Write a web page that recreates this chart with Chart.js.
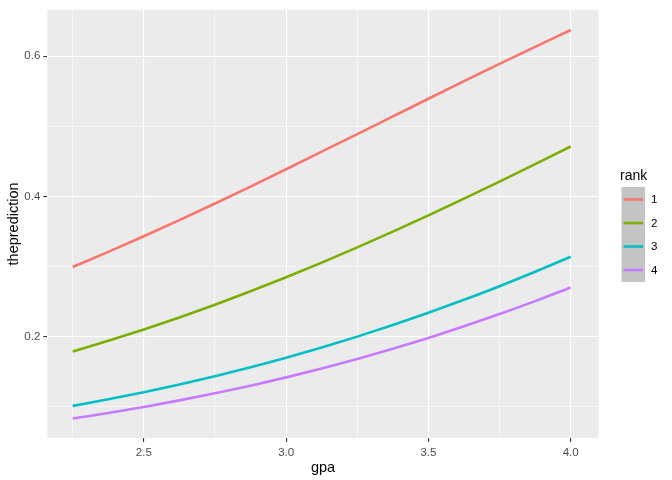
<!DOCTYPE html>
<html>
<head>
<meta charset="utf-8">
<script src="https://cdn.jsdelivr.net/npm/chart.js@4"></script>
<style>
  html, body { margin: 0; padding: 0; background: #ffffff; }
  #wrap { width: 672px; height: 480px; }
</style>
</head>
<body>
<div id="wrap"><canvas id="chart" width="672" height="480"></canvas></div>
<script>
// predicted admission probability by gpa, one series per rank
const gpa = [2.25, 2.375, 2.5, 2.625, 2.75, 2.875, 3.0, 3.125, 3.25, 3.375, 3.5, 3.625, 3.75, 3.875, 4.0];
const rank1 = [0.2995, 0.3210, 0.3433, 0.3663, 0.3899, 0.4141, 0.4388, 0.4638, 0.4889, 0.5141, 0.5393, 0.5643, 0.5889, 0.6132, 0.6372];
const rank2 = [0.1790, 0.1942, 0.2104, 0.2276, 0.2457, 0.2648, 0.2848, 0.3057, 0.3274, 0.3499, 0.3731, 0.3969, 0.4212, 0.4460, 0.4712];
const rank3 = [0.1015, 0.1109, 0.1210, 0.1320, 0.1438, 0.1565, 0.1701, 0.1847, 0.2002, 0.2167, 0.2342, 0.2527, 0.2721, 0.2926, 0.3140];
const rank4 = [0.0835, 0.0914, 0.1000, 0.1093, 0.1194, 0.1303, 0.1421, 0.1548, 0.1684, 0.1829, 0.1984, 0.2149, 0.2324, 0.2508, 0.2703];
const rankLabels = ['1', '2', '3', '4'];
const rankColors = ['#F8766D', '#7CAE00', '#00BFC4', '#C77CFF'];

// ticks: labelled (major) and unlabelled (minor) grid lines
const xMajor = [2.5, 3.0, 3.5, 4.0];
const xMinor = [2.25, 2.75, 3.25, 3.75];
const yMajor = [0.2, 0.4, 0.6];
const yMinor = [0.1, 0.3, 0.5];

const FONT = 'Liberation Sans, Arial, Helvetica, sans-serif';

const series = [rank1, rank2, rank3, rank4];
const datasets = series.map((vals, i) => ({
  label: rankLabels[i],
  data: gpa.map((g, j) => ({ x: g, y: vals[j] })),
  borderColor: rankColors[i],
  borderWidth: 2.6,
  pointRadius: 0,
  fill: false,
  cubicInterpolationMode: 'monotone'
}));

const isMajor = (list, v) => list.some(m => Math.abs(m - v) < 1e-6);

// grey panel behind the grid
const panelBg = {
  id: 'panelBg',
  beforeDraw(chart) {
    const { ctx, chartArea: a } = chart;
    ctx.save();
    ctx.fillStyle = '#EBEBEB';
    ctx.fillRect(a.left, a.top, a.right - a.left, a.bottom - a.top);
    ctx.restore();
  }
};

// ggplot-like legend on the right
const rankLegend = {
  id: 'rankLegend',
  afterDraw(chart) {
    const ctx = chart.ctx;
    ctx.save();
    ctx.font = '14px ' + FONT;
    ctx.fillStyle = '#000000';
    ctx.textBaseline = 'middle';
    ctx.textAlign = 'left';
    ctx.fillText('rank', 620, 176);
    ctx.fillStyle = '#C4C4C4';
    ctx.fillRect(621.5, 187, 23.5, 95);
    ctx.font = '11.5px ' + FONT;
    rankLabels.forEach((lab, i) => {
      const y = 199.5 + i * 23.5;
      ctx.strokeStyle = rankColors[i];
      ctx.lineWidth = 2.6;
      ctx.beginPath();
      ctx.moveTo(623.5, y);
      ctx.lineTo(643, y);
      ctx.stroke();
      ctx.fillStyle = '#000000';
      ctx.fillText(lab, 651, y + 0.5);
    });
    ctx.restore();
  }
};

new Chart(document.getElementById('chart'), {
  type: 'line',
  data: { datasets },
  plugins: [panelBg, rankLegend],
  options: {
    responsive: false,
    animation: false,
    layout: { padding: { left: 0, right: 73.3, top: 6.7, bottom: 0 } },
    plugins: { legend: { display: false }, tooltip: { enabled: false } },
    scales: {
      x: {
        type: 'linear',
        min: 2.1608,
        max: 4.0984,
        afterBuildTicks(axis) {
          axis.ticks = xMinor.concat(xMajor).sort((a, b) => a - b).map(v => ({ value: v }));
        },
        afterFit(axis) { axis.height = 42; },
        border: { display: false },
        grid: {
          color: '#FFFFFF',
          lineWidth: c => isMajor(xMajor, c.tick.value) ? 1.1 : 0.55,
          tickColor: c => isMajor(xMajor, c.tick.value) ? '#333333' : 'rgba(0,0,0,0)',
          tickLength: 4,
          tickWidth: 1.1
        },
        ticks: {
          autoSkip: false,
          maxRotation: 0,
          padding: 4,
          color: '#4D4D4D',
          font: { family: FONT, size: 11.5 },
          callback: v => isMajor(xMajor, v) ? v.toFixed(1) : ''
        },
        title: {
          display: true,
          text: 'gpa',
          color: '#000000',
          font: { family: FONT, size: 14.5 },
          padding: { top: 0, bottom: 3.5 }
        }
      },
      y: {
        type: 'linear',
        min: 0.0557,
        max: 0.6659,
        afterBuildTicks(axis) {
          axis.ticks = yMinor.concat(yMajor).sort((a, b) => a - b).map(v => ({ value: v }));
        },
        afterFit(axis) { axis.width = 47.3; },
        border: { display: false },
        grid: {
          color: '#FFFFFF',
          lineWidth: c => isMajor(yMajor, c.tick.value) ? 1.1 : 0.55,
          tickColor: c => isMajor(yMajor, c.tick.value) ? '#333333' : 'rgba(0,0,0,0)',
          tickLength: 4,
          tickWidth: 1.1
        },
        ticks: {
          autoSkip: false,
          padding: 3,
          color: '#4D4D4D',
          font: { family: FONT, size: 11.5 },
          callback: v => isMajor(yMajor, v) ? v.toFixed(1) : ''
        },
        title: {
          display: true,
          text: 'theprediction',
          color: '#000000',
          font: { family: FONT, size: 14.5 },
          padding: { top: 5, bottom: 0 }
        }
      }
    }
  }
});
</script>
</body>
</html>
